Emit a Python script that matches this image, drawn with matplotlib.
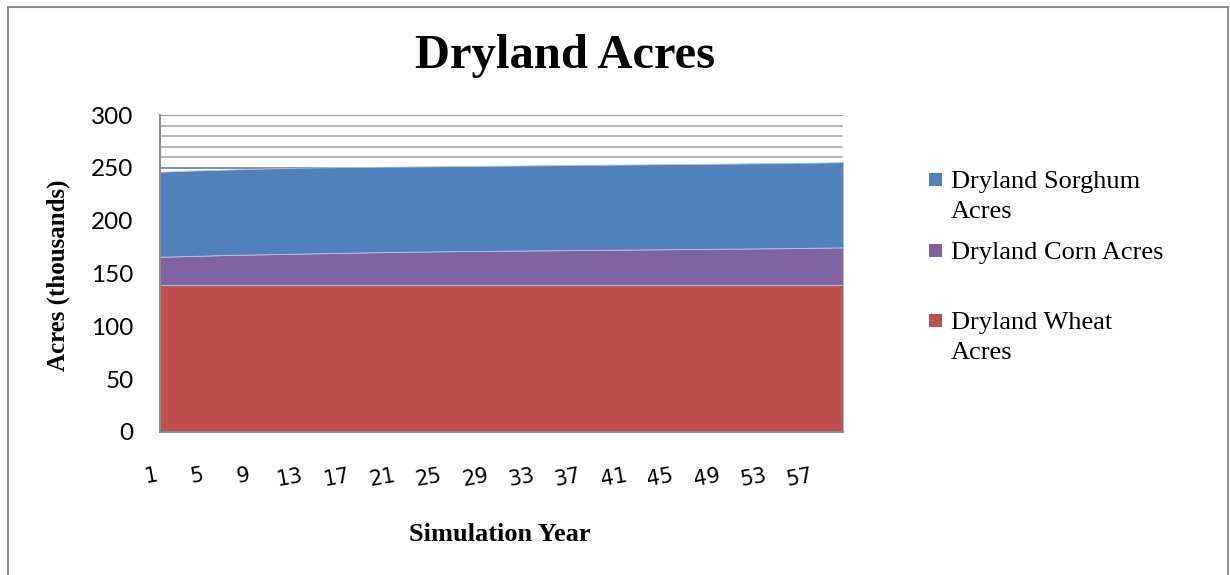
import matplotlib
matplotlib.use("Agg")
import matplotlib.pyplot as plt
from matplotlib.patches import Rectangle
from matplotlib.ticker import MultipleLocator
from matplotlib.transforms import ScaledTranslation

years = list(range(1, 61))

wheat = [139.0] * 60

corn = [26.8, 27.1, 27.4, 27.7, 28.0, 28.3, 28.6, 28.8, 29.0, 29.2,
        29.4, 29.6, 29.8, 30.0, 30.2, 30.4, 30.6, 30.8, 31.0, 31.2,
        31.4, 31.5, 31.7, 31.8, 32.0, 32.1, 32.2, 32.3, 32.4, 32.5,
        32.6, 32.7, 32.8, 32.9, 33.0, 33.1, 33.2, 33.3, 33.4, 33.5,
        33.6, 33.7, 33.8, 33.9, 34.0, 34.1, 34.2, 34.3, 34.4, 34.5,
        34.6, 34.7, 34.8, 34.9, 35.0, 35.1, 35.3, 35.4, 35.6, 35.7]

sorghum = [80.5, 80.6, 80.7, 80.8, 80.8, 80.8, 80.8, 80.9, 81.0, 81.1,
           81.2, 81.3, 81.3, 81.3, 81.3, 81.2, 81.1, 81.0, 80.9, 80.8,
           80.7, 80.7, 80.6, 80.6, 80.5, 80.5, 80.5, 80.5, 80.5, 80.5,
           80.5, 80.5, 80.5, 80.5, 80.5, 80.5, 80.5, 80.5, 80.5, 80.5,
           80.5, 80.5, 80.5, 80.5, 80.5, 80.5, 80.5, 80.5, 80.5, 80.5,
           80.5, 80.6, 80.6, 80.6, 80.6, 80.7, 80.6, 80.6, 80.6, 80.7]

series_names = ["Dryland Wheat Acres", "Dryland Corn Acres", "Dryland Sorghum Acres"]
legend_labels = ["Dryland Sorghum\nAcres", "Dryland Corn Acres", "Dryland Wheat\nAcres"]
colors = ["#C0504D", "#8064A2", "#4F81BD"]
xtick_labels = [str(v) for v in range(1, 58, 4)]
ytick_values = [0, 50, 100, 150, 200, 250, 300]

fig = plt.figure(figsize=(12.3, 5.75), dpi=100)
ax = fig.add_axes([160/1230, 1 - 432/575, 683/1230, 317/575])

# gridlines
ax.set_ylim(0, 300)
ax.set_xlim(1, 60)
ax.yaxis.set_major_locator(MultipleLocator(50))
ax.yaxis.set_minor_locator(MultipleLocator(10))
ax.grid(True, which="major", axis="y", color="#8c8c8c", lw=1.4, zorder=0)
ax.grid(True, which="minor", axis="y", color="#b8b8b8", lw=1.4, zorder=0)
ax.set_axisbelow(True)

ax.stackplot(years, wheat, corn, sorghum, colors=colors, labels=series_names,
             edgecolor="#b4c6e0", linewidth=0.6, zorder=2)

for s in ["top", "right"]:
    ax.spines[s].set_visible(False)
ax.spines["left"].set_color("#8c8c8c")
ax.spines["left"].set_linewidth(1.4)
ax.spines["bottom"].set_color("#8c8c8c")
ax.spines["bottom"].set_linewidth(1.4)

ax.set_yticks(ytick_values)
ax.set_yticklabels([str(v) for v in ytick_values], fontfamily="Lato", fontsize=17.5)
ax.tick_params(axis="y", which="both", length=0, pad=19)

ax.set_xticks(list(range(1, 58, 4)))
ax.set_xticklabels(xtick_labels, fontfamily="DejaVu Sans", fontsize=15, rotation=10)
ax.tick_params(axis="x", length=0, pad=24)
shift = ScaledTranslation(-9/100, 0, fig.dpi_scale_trans)
for lbl in ax.get_xticklabels():
    lbl.set_transform(lbl.get_transform() + shift)

ax.set_ylabel("Acres (thousands)", fontfamily="Liberation Serif", fontweight="bold", fontsize=18)
ax.yaxis.set_label_coords(-0.1318, 0.495)
ax.set_xlabel("Simulation Year", fontfamily="Liberation Serif", fontweight="bold", fontsize=19)
ax.xaxis.set_label_coords(0.498, -0.288)

fig.text(565/1230, 1 - 68/575, "Dryland Acres", fontfamily="Liberation Serif",
         fontweight="bold", fontsize=35, ha="center", va="baseline")

# legend (manual placement)
leg_y = [179, 250, 320]
leg_colors = [colors[2], colors[1], colors[0]]
for y, lab, c in zip(leg_y, legend_labels, leg_colors):
    fig.patches.append(Rectangle((929/1230, 1 - (y + 6.5)/575), 13/1230, 13/575,
                                 transform=fig.transFigure, facecolor=c, edgecolor="none"))
    fig.text(951/1230, 1 - (y - 8)/575, lab, fontfamily="Liberation Serif", fontsize=19,
             ha="left", va="top", linespacing=1.45)

# outer border
fig.patches.append(Rectangle((8/1230, -0.02), 1220/1230, 1.02 - 7/575,
                             transform=fig.transFigure, facecolor="none",
                             edgecolor="#8c8c8c", lw=1.5))

fig.savefig("out.png", dpi=100)
